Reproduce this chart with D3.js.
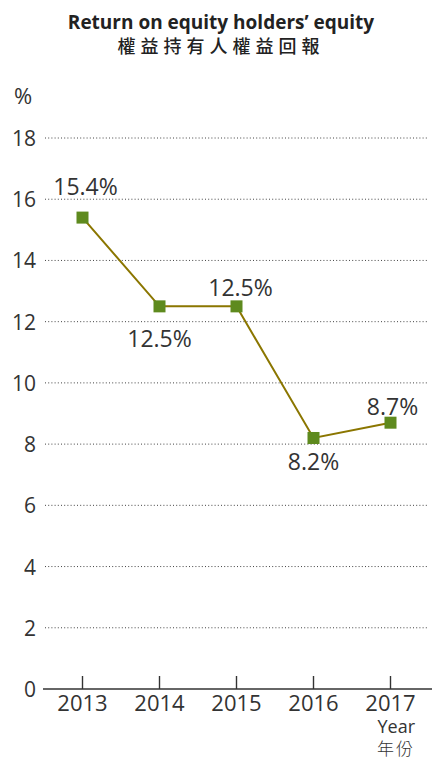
<!DOCTYPE html>
<html>
<head>
<meta charset="utf-8">
<script src="https://cdn.jsdelivr.net/npm/d3@7"></script>
<style>
  body { margin: 0; background: #fff; }
  svg { display: block; font-family: "Open Sans", "Noto Sans", sans-serif; }
</style>
</head>
<body>
<div id="chart"></div>
<script>
// data
const years = ["2013", "2014", "2015", "2016", "2017"];
const roe = [15.4, 12.5, 12.5, 8.2, 8.7];
const valueLabels = ["15.4%", "12.5%", "12.5%", "8.2%", "8.7%"];
const yTicks = [0, 2, 4, 6, 8, 10, 12, 14, 16, 18];

const width = 432, height = 760;
const textColor = "#333";

const svg = d3.select("#chart")
    .append("svg")
    .attr("width", width)
    .attr("height", height);

// title
svg.append("text")
    .attr("x", 221).attr("y", 29)
    .attr("text-anchor", "middle")
    .style("font-size", "19px")
    .style("font-weight", 700)
    .attr("fill", "#222")
    .text("Return on equity holders\u2019 equity");

svg.append("text")
    .attr("x", 221).attr("y", 53)
    .attr("text-anchor", "middle")
    .style("font-family", "'Noto Sans CJK TC', 'Noto Sans CJK SC', sans-serif")
    .style("font-size", "18px")
    .style("font-weight", 500)
    .style("letter-spacing", "5px")
    .attr("fill", "#222")
    .text("權益持有人權益回報");

const x = d3.scaleBand().domain(years).range([44, 429]);
const y = d3.scaleLinear().domain([0, 18]).range([689, 138]);
const cx = d => x(d) + x.bandwidth() / 2;

// unit
svg.append("text")
    .attr("x", 14).attr("y", 104)
    .style("font-size", "22px")
    .attr("fill", textColor)
    .text("%");

// gridlines (dotted)
svg.append("g")
    .selectAll("line")
    .data(yTicks.filter(d => d > 0))
    .join("line")
    .attr("x1", 45).attr("x2", 428)
    .attr("y1", d => y(d)).attr("y2", d => y(d))
    .attr("stroke", "#444")
    .attr("stroke-width", 1)
    .attr("stroke-dasharray", "1,2.2");

// y tick labels
svg.append("g")
    .selectAll("text")
    .data(yTicks)
    .join("text")
    .attr("x", 36)
    .attr("y", d => y(d) + 8)
    .attr("text-anchor", "end")
    .style("font-size", "21px")
    .attr("fill", textColor)
    .text(d => d);

// x axis
const xAxis = svg.append("g")
    .attr("transform", `translate(0,${y(0)})`)
    .call(d3.axisBottom(x).tickSize(-13).tickSizeOuter(0).tickPadding(8));
xAxis.select(".domain")
    .attr("d", "M43,0H432")
    .attr("stroke", "#333")
    .attr("stroke-width", 1.4);
xAxis.selectAll(".tick line")
    .attr("stroke", "#333")
    .attr("stroke-width", 1.4);
xAxis.selectAll(".tick text")
    .attr("dy", null)
    .attr("y", 22)
    .style("font-family", "'Open Sans', sans-serif")
    .style("font-size", "22px")
    .attr("fill", textColor);

svg.append("text")
    .attr("x", 415).attr("y", 733)
    .attr("text-anchor", "end")
    .style("font-size", "18px")
    .attr("fill", textColor)
    .text("Year");

svg.append("text")
    .attr("x", 415).attr("y", 755)
    .attr("text-anchor", "end")
    .style("font-family", "'Noto Sans CJK TC', sans-serif")
    .style("font-size", "17px")
    .style("font-weight", 300)
    .style("letter-spacing", "2px")
    .attr("fill", textColor)
    .text("年份");

// line
const points = years.map((yr, i) => ({ year: yr, value: roe[i], label: valueLabels[i] }));

svg.append("path")
    .datum(points)
    .attr("fill", "none")
    .attr("stroke", "#8b7600")
    .attr("stroke-width", 2)
    .attr("d", d3.line().x(d => cx(d.year)).y(d => y(d.value)));

// markers
const ms = 12;
svg.append("g")
    .selectAll("rect")
    .data(points)
    .join("rect")
    .attr("x", d => cx(d.year) - ms / 2)
    .attr("y", d => y(d.value) - ms / 2)
    .attr("width", ms).attr("height", ms)
    .attr("fill", "#5e8a1e");

// value labels: offset from the marker, above or below
const labelOffsets = [[3, -23], [0, 41], [4, -10], [0, 32], [2, -8]];
svg.append("g")
    .selectAll("text")
    .data(points)
    .join("text")
    .attr("x", (d, i) => cx(d.year) + labelOffsets[i][0])
    .attr("y", (d, i) => y(d.value) + labelOffsets[i][1])
    .attr("text-anchor", "middle")
    .style("font-size", "23px")
    .attr("fill", textColor)
    .text(d => d.label);
</script>
</body>
</html>
